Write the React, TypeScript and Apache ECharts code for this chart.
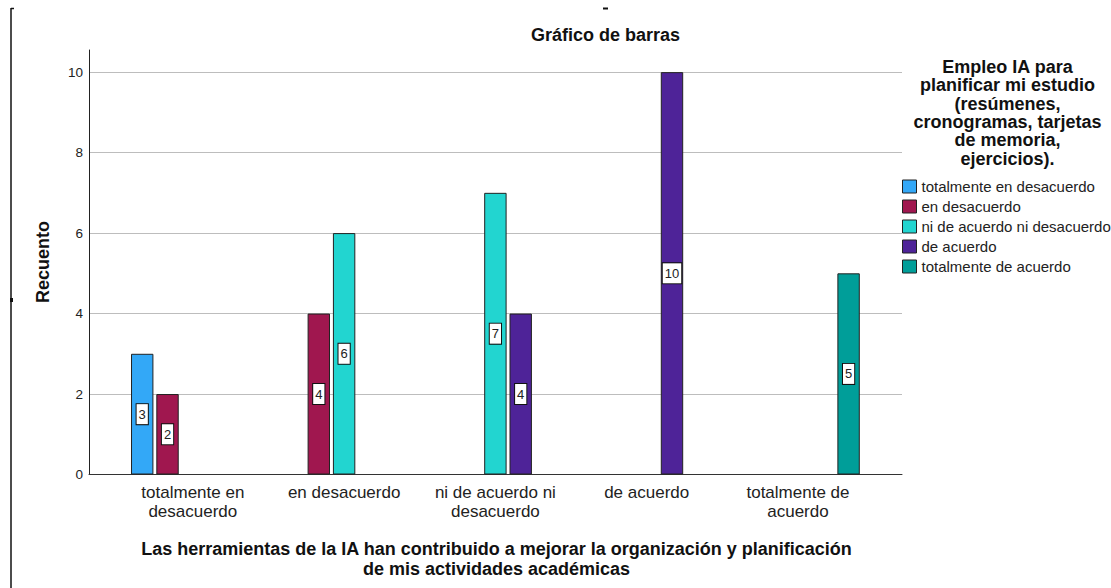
import React, { useEffect, useRef } from "react";
import * as echarts from "echarts";

const categories = [
  "totalmente en\ndesacuerdo",
  "en desacuerdo",
  "ni de acuerdo ni\ndesacuerdo",
  "de acuerdo",
  "totalmente de\nacuerdo",
];
const seriesNames = [
  "totalmente en desacuerdo",
  "en desacuerdo",
  "ni de acuerdo ni desacuerdo",
  "de acuerdo",
  "totalmente de acuerdo",
];
const totalmenteEnDesacuerdo = [3, null, null, null, null];
const enDesacuerdo = [2, 4, null, null, null];
const niDeAcuerdo = [null, 6, 7, null, null];
const deAcuerdo = [null, null, 4, 10, null];
const totalmenteDeAcuerdo = [null, null, null, null, 5];
const seriesValues = [totalmenteEnDesacuerdo, enDesacuerdo, niDeAcuerdo, deAcuerdo, totalmenteDeAcuerdo];
const colors = ["#33A8F7", "#A0174F", "#22D5D0", "#4E2398", "#009E99"];
const yTicks = { min: 0, max: 10.55, interval: 2 };

const FONT = "'Liberation Sans', Arial, sans-serif";

export default function App() {
  const ref = useRef<HTMLDivElement>(null);
  useEffect(() => {
    if (!ref.current) return;
    const chart = echarts.init(ref.current, undefined, { renderer: "svg" });
    const top = 50;
    const bottom = 588 - 474.5;
    const option: any = {
      animation: false,
      backgroundColor: "#fff",
      textStyle: { fontFamily: FONT },
      grid: [
        { left: 89, right: 1111 - 902, top, bottom, containLabel: false },
        { left: 117.2, right: 1111 - 873.6, top, bottom, containLabel: false },
      ],
      xAxis: [
        {
          type: "value",
          gridIndex: 0,
          min: 0,
          max: 1,
          axisLine: { show: true, onZero: false, lineStyle: { color: "#333", width: 1 } },
          axisTick: { show: false },
          axisLabel: { show: false },
          splitLine: { show: false },
        },
        {
          type: "category",
          gridIndex: 1,
          data: categories,
          axisLine: { show: false },
          axisTick: { show: false },
          axisLabel: {
            color: "#222",
            fontSize: 17,
            lineHeight: 19.6,
            margin: 8,
            fontFamily: FONT,
            interval: 0,
          },
        },
      ],
      yAxis: [
        {
          type: "value",
          gridIndex: 0,
          min: yTicks.min,
          max: yTicks.max,
          interval: yTicks.interval,
          axisLine: { show: true, lineStyle: { color: "#222", width: 1 } },
          axisTick: { show: false },
          axisLabel: { color: "#222", fontSize: 13.5, margin: 6, showMaxLabel: false, fontFamily: FONT },
          splitLine: { show: true, showMaxLine: false, lineStyle: { color: "#bdbdbd", width: 1 } },
        },
        {
          type: "value",
          gridIndex: 1,
          min: yTicks.min,
          max: yTicks.max,
          interval: yTicks.interval,
          show: false,
          splitLine: { show: false },
        },
      ],
      legend: {
        orient: "vertical",
        left: 902,
        top: 179,
        padding: 0,
        icon: "rect",
        itemWidth: 14,
        itemHeight: 13,
        itemGap: 5,
        data: seriesNames,
        itemStyle: { borderColor: "#222", borderWidth: 1 },
        textStyle: { fontSize: 15, lineHeight: 15, color: "#222", fontFamily: FONT },
      },
      series: seriesNames.map((name, i) => ({
        name,
        type: "bar",
        xAxisIndex: 1,
        yAxisIndex: 1,
        data: seriesValues[i],
        barWidth: 22.4,
        barGap: "13%",
        itemStyle: { color: colors[i], borderColor: "#222", borderWidth: 1 },
        label: {
          show: true,
          position: "inside",
          color: "#222",
          fontSize: 13,
          lineHeight: 15,
          fontFamily: FONT,
          backgroundColor: "#fff",
          borderColor: "#111",
          borderWidth: 1,
          padding: [3, 2, 2, 2],
        },
      })),
      graphic: [
        {
          type: "text",
          x: 605.5,
          y: 35,
          style: {
            text: "Gráfico de barras",
            font: `bold 18px ${FONT}`,
            fill: "#111",
            textAlign: "center",
            textVerticalAlign: "middle",
          },
        },
        {
          type: "rect",
          shape: { x: 603, y: 7.5, width: 5, height: 2 },
          style: { fill: "#111" },
        },
        {
          type: "text",
          x: 43,
          y: 262,
          rotation: Math.PI / 2,
          style: {
            text: "Recuento",
            font: `bold 18px ${FONT}`,
            fill: "#111",
            textAlign: "center",
            textVerticalAlign: "middle",
          },
        },
        {
          type: "text",
          x: 496.5,
          y: 559,
          style: {
            text: "Las herramientas de la IA han contribuido a mejorar la organización y planificación\nde mis actividades académicas",
            font: `bold 18px ${FONT}`,
            lineHeight: 20.8,
            fill: "#111",
            textAlign: "center",
            textVerticalAlign: "middle",
          },
        },
        {
          type: "text",
          x: 1007.5,
          y: 112.8,
          style: {
            text: "Empleo IA para\nplanificar mi estudio\n(resúmenes,\ncronogramas, tarjetas\nde memoria,\nejercicios).",
            font: `bold 18px ${FONT}`,
            lineHeight: 18.3,
            fill: "#111",
            textAlign: "center",
            textVerticalAlign: "middle",
          },
        },
        {
          type: "line",
          shape: { x1: 11, y1: 8, x2: 11, y2: 588 },
          style: { stroke: "#111", lineWidth: 1.5 },
        },
        {
          type: "line",
          shape: { x1: 11, y1: 8.5, x2: 14, y2: 8.5 },
          style: { stroke: "#111", lineWidth: 1.5 },
        },
        {
          type: "rect",
          shape: { x: 10, y: 298, width: 3, height: 4 },
          style: { fill: "#111" },
        },
      ],
    };
    chart.setOption(option);
    return () => chart.dispose();
  }, []);
  return (
    <div
      ref={ref}
      style={{ position: "fixed", left: 0, top: 0, width: 1111, height: 588, background: "#fff" }}
    />
  );
}
